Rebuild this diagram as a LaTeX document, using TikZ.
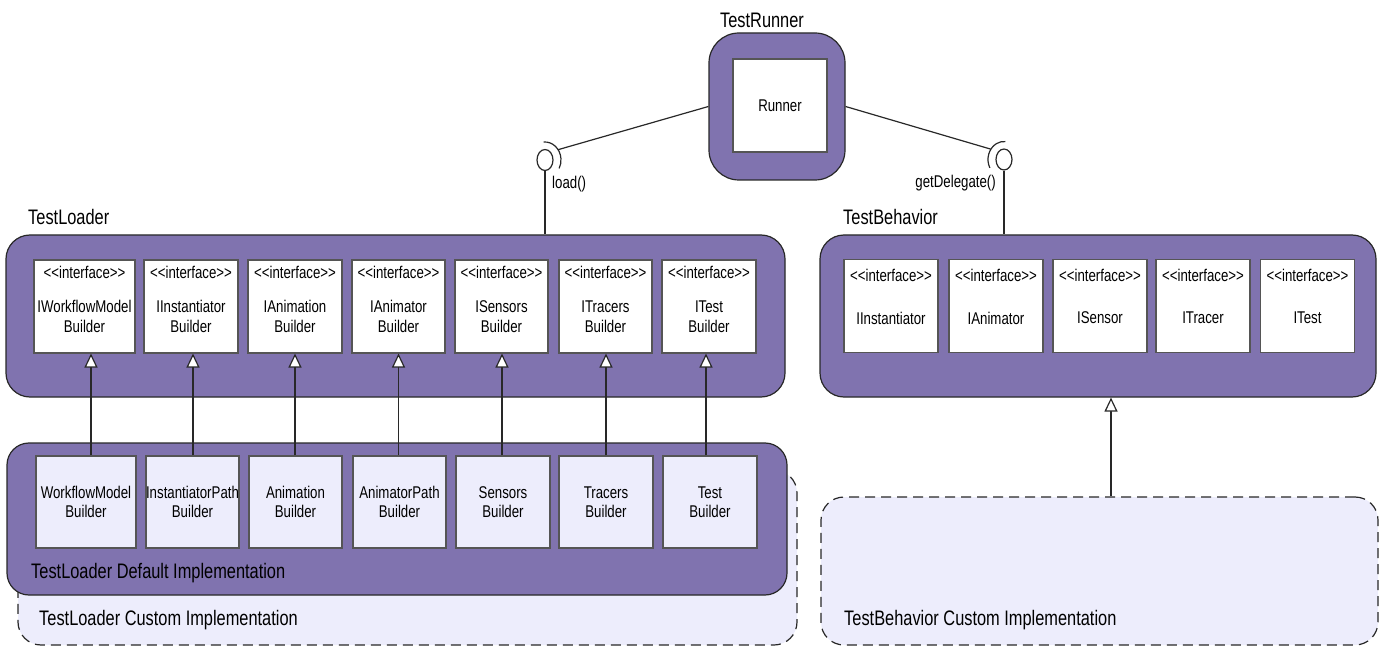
\documentclass[tikz,border=0pt]{standalone}
\usepackage{fontspec}
\setmainfont{Liberation Sans}[FakeStretch=0.78]
\usetikzlibrary{arrows.meta,shapes.geometric}
\definecolor{purp}{RGB}{128,115,175}
\definecolor{lav}{RGB}{237,237,252}
\definecolor{edgec}{RGB}{40,40,40}
\definecolor{boxedge}{RGB}{85,85,85}
\newcommand\dgsmall{\fontsize{17}{19.5}\selectfont}
\newcommand\dglabel{\fontsize{21}{25}\selectfont}
\begin{document}
\begin{tikzpicture}[x=1pt,y=-1pt,
  container/.style={draw=edgec, fill=purp, line width=1.2pt, rounded corners=24pt, inner sep=0pt},
  customimpl/.style={draw=edgec, fill=lav, line width=1.2pt, dash pattern=on 10pt off 6pt, rounded corners=23pt, inner sep=0pt},
  ibox/.style={draw=boxedge, fill=white, line width=1.1pt, minimum height=93pt, minimum width=94pt, inner sep=0pt},
  implbox/.style={draw=boxedge, fill=lav, line width=1.1pt, minimum height=92pt, minimum width=93pt, inner sep=0pt, font=\dgsmall, align=center},
  stereo/.style={font=\dgsmall, inner sep=0pt},
  iname/.style={font=\dgsmall, align=center, inner sep=0pt},
  grouplabel/.style={font=\dglabel, inner sep=0pt, anchor=west},
  gen/.style={line width=1.2pt, draw=edgec, -{Triangle[length=14pt,width=13pt,fill=white,line width=1.2pt]}},
  conn/.style={line width=1.2pt, draw=edgec},
  ball/.style={ellipse, draw=edgec, fill=white, line width=1.2pt, minimum width=16pt, minimum height=21pt, inner sep=0pt}
]
\useasboundingbox (0,0) rectangle (1382,647);

% ---------- TestRunner ----------
\node[container, rounded corners=30pt, minimum width=136pt, minimum height=147pt] (tr) at (777,106.5) {};
\node[ibox] (runner) at (780,105.5) {\dgsmall Runner};
\node[font=\dglabel, inner sep=0pt] (trlabel) at (762,20) {TestRunner};

% ---------- custom implementations (behind) ----------
\node[customimpl, minimum width=779pt, minimum height=175pt] (tlcustom) at (407.5,557.5) {};
\node[grouplabel] (tlcustomlabel) at (39,620) {TestLoader Custom Implementation};
\node[customimpl, minimum width=557pt, minimum height=148pt] (tbcustom) at (1099.5,571) {};
\node[grouplabel] (tbcustomlabel) at (844,620) {TestBehavior Custom Implementation};

% ---------- TestLoader ----------
\node[container, minimum width=779pt, minimum height=162pt] (tl) at (395.5,316) {};
\node[grouplabel] (tllabel) at (28,217) {TestLoader};

\foreach \n/\cx/\w/\nm in {1/84.5/101/IWorkflowModel\\Builder, 2/191/94/IInstantiator\\Builder,
  3/295/94/IAnimation\\Builder, 4/398.5/93/IAnimator\\Builder, 5/501.5/93/ISensors\\Builder,
  6/605.5/93/ITracers\\Builder, 7/709/94/ITest\\Builder}{
  \node[ibox, minimum width=\w pt] (iw\n) at (\cx,306.5) {};
  \node[stereo] (iws\n) at (\cx,272) {<{}<interface>{}>};
  \node[iname] (iwn\n) at (\cx,316.5) {\nm};
}

% ---------- TestLoader Default Implementation ----------
\node[container, rounded corners=22pt, minimum width=780pt, minimum height=152pt] (tld) at (397,519) {};
\node[grouplabel] (tldlabel) at (31,573) {TestLoader Default Implementation};

\foreach \n/\cx/\w/\nm in {1/86/100/WorkflowModel\\Builder, 2/192.5/93/InstantiatorPath\\Builder,
  3/295.5/93/Animation\\Builder, 4/399.5/93/AnimatorPath\\Builder, 5/503/94/Sensors\\Builder,
  6/606/94/Tracers\\Builder, 7/710/94/Test\\Builder}{
  \node[implbox, minimum width=\w pt] (w\n) at (\cx,502) {\nm};
}

% generalisation arrows
\foreach \n/\d in {1/5, 2/0.5, 3/-0.5, 4/-1, 5/-1, 6/0, 7/-4}{
  \path ([xshift=\d pt]w\n.north) coordinate (a\n);
  \draw[gen] (a\n) -- (iw\n.south -| a\n);
}

% ---------- TestBehavior ----------
\node[container, minimum width=556pt, minimum height=162pt] (tb) at (1098,316) {};
\node[grouplabel] (tblabel) at (843,217) {TestBehavior};

\foreach \n/\cx/\nm in {1/891/IInstantiator, 2/996/IAnimator, 3/1100/ISensor, 4/1203/ITracer, 5/1307.5/ITest}{
  \node[ibox] (ib\n) at (\cx,306) {};
  \node[stereo] (ibs\n) at (\cx,275) {<{}<interface>{}>};
  \node[iname] (ibn\n) at (\cx,318) {\nm};
}

\path (tbcustom.north -| 1111,0) coordinate (tbc);
\draw[gen] (tbc) -- (tb.south -| tbc);

% ---------- required interfaces (ball and socket) ----------
\node[ball] (ballL) at (545,160) {};
\draw[conn] (ballL.south) -- (tl.north -| ballL.south);
\draw[conn] (ballL.center) ++(-95:16 and 18) arc[start angle=-95, end angle=28, x radius=16, y radius=18];
\path (ballL.center) ++(-35:16 and 18) coordinate (sockL);
\draw[conn] (tr.west) -- (sockL);
\node[font=\dgsmall, inner sep=0pt, anchor=west] (loadlabel) at (552,184) {load()};

\node[ball] (ballR) at (1004,159.5) {};
\draw[conn] (ballR.south) -- (tb.north -| ballR.south);
\draw[conn] (ballR.center) ++(152:16 and 18) arc[start angle=152, end angle=275, x radius=16, y radius=18];
\path (ballR.center) ++(215:16 and 18) coordinate (sockR);
\draw[conn] (tr.east) -- (sockR);
\node[font=\dgsmall, inner sep=0pt, anchor=east] (getlabel) at (996,183) {getDelegate()};

\end{tikzpicture}
\end{document}
